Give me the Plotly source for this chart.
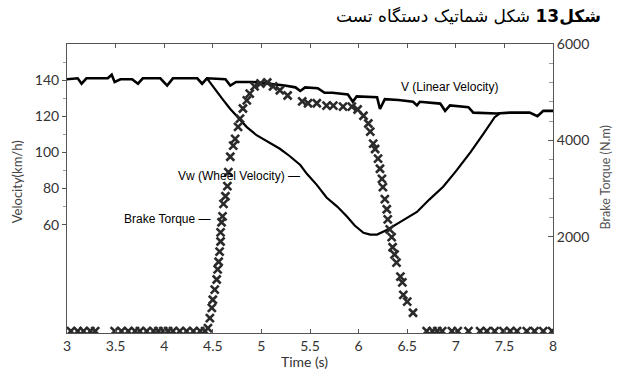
import plotly.graph_objects as go

# ---- data ----
v_time = [3.00, 3.11, 3.15, 3.20, 3.42, 3.46, 3.49, 3.55, 3.67, 3.73, 3.78, 3.96, 4.03, 4.09,
          4.34, 4.39, 4.44, 4.63, 4.68, 4.74, 4.91, 5.09, 5.24, 5.35, 5.40, 5.45, 5.58, 5.65,
          5.73, 5.89, 5.94, 5.98, 6.19, 6.22, 6.27, 6.41, 6.56, 6.60, 6.63, 6.84, 6.89, 6.94,
          7.13, 7.18, 7.42, 7.56, 7.76, 7.84, 7.90, 8.00]
v_speed = [140.5, 141, 138, 141, 141, 143, 139, 140.5, 140.5, 138, 141, 141, 137, 141,
           141, 138, 141, 140.5, 137, 139, 139, 138, 137, 136, 134, 136, 135.5, 133,
           133, 132, 128, 131, 130.5, 124, 129.5, 129, 128, 126, 128, 127, 123, 126,
           125, 122, 121.5, 122, 122, 120, 123, 123]

vw_time = [4.44, 4.52, 4.60, 4.68, 4.75, 4.85, 4.95, 5.06, 5.19, 5.29, 5.40, 5.47, 5.57,
           5.67, 5.78, 5.88, 5.96, 6.05, 6.12, 6.19, 6.29, 6.43, 6.60, 6.73, 6.87, 7.00,
           7.15, 7.28, 7.40, 7.45]
vw_speed = [141, 135, 129.5, 124, 120, 114, 109.5, 106, 102, 98, 93, 88, 82,
            75, 70, 64.5, 59.5, 55.5, 54.5, 54.5, 57, 61.5, 67, 74, 81, 89.5,
            100, 110, 119.5, 121.5]

bt_time = [3.04, 3.11, 3.17, 3.24, 3.29,
           3.49, 3.56, 3.63, 3.70, 3.75, 3.82, 3.89, 3.94, 3.99, 4.04, 4.09, 4.16, 4.23, 4.30, 4.37, 4.42,
           4.45, 4.47, 4.49, 4.50, 4.52, 4.54, 4.55, 4.56, 4.57, 4.58, 4.58, 4.59, 4.60, 4.61, 4.63,
           4.65, 4.66, 4.68, 4.71, 4.73, 4.76, 4.78, 4.81, 4.85, 4.88, 4.93, 4.99, 5.06, 5.12, 5.19,
           5.27, 5.42, 5.48, 5.57, 5.67, 5.74, 5.84, 5.93, 5.99, 6.05, 6.10, 6.12, 6.15, 6.17, 6.20,
           6.22, 6.24, 6.25, 6.27, 6.29, 6.30, 6.32, 6.34, 6.35, 6.37, 6.39, 6.43, 6.45, 6.46, 6.50,
           6.56,
           6.70, 6.76, 6.81, 6.86, 6.96, 7.02, 7.13, 7.25, 7.32, 7.40, 7.49, 7.56, 7.63, 7.73, 7.81,
           7.90, 7.99]
bt_torque = [40, 40, 40, 40, 40,
             40, 40, 40, 40, 40, 40, 40, 40, 40, 40, 40, 40, 40, 40, 40, 40,
             100, 310, 520, 690, 900, 1110, 1320, 1480, 1690, 1900, 2090, 2300, 2420, 2680, 2840,
             3050, 3340, 3660, 3890, 4030, 4280, 4450, 4660, 4830, 4970, 5120, 5180, 5200, 5120, 5040,
             4930, 4810, 4770, 4770, 4720, 4720, 4700, 4700, 4640, 4510, 4350, 4180, 3930, 3820, 3620,
             3410, 3200, 3030, 2780, 2570, 2360, 2150, 1990, 1780, 1630, 1460, 1170, 1050, 790, 650,
             420,
             40, 40, 40, 40, 40, 40, 40, 40, 40, 40, 40, 40, 40, 40, 40,
             40, 40]

x_tickvals = [3, 3.5, 4, 4.5, 5, 5.5, 6, 6.5, 7, 7.5, 8]
left_tickvals = [60, 80, 100, 120, 140]
left_minor = [70, 90, 110, 130, 150]
right_tickvals = [2000, 4000, 6000]
right_minor = [2400, 2800, 3200, 3600, 4400, 4800, 5200, 5600]

title_text = "<b>شکل13</b> شکل شماتیک دستگاه تست"

AX = "#555555"
TICKFONT = dict(family="Lato, Open Sans, sans-serif", size=14, color="#333333")

fig = go.Figure()
fig.add_trace(go.Scatter(x=v_time, y=v_speed, mode="lines",
                         line=dict(color="black", width=2.6), showlegend=False))
fig.add_trace(go.Scatter(x=vw_time, y=vw_speed, mode="lines",
                         line=dict(color="black", width=2.2), showlegend=False))
fig.add_trace(go.Scatter(x=bt_time, y=bt_torque, mode="markers", yaxis="y2",
                         marker=dict(symbol="x-thin", size=8, color="#2a2a2a",
                                     line=dict(width=2.6, color="#2a2a2a")),
                         showlegend=False))

fig.update_layout(
    width=617, height=372,
    margin=dict(l=67, r=64, t=44, b=39),
    paper_bgcolor="white", plot_bgcolor="white",
    xaxis=dict(range=[3, 8], tickvals=x_tickvals, ticks="inside", ticklen=4,
               tickcolor=AX, showline=True, linecolor=AX, linewidth=1, mirror="ticks",
               showgrid=False, zeroline=False, tickfont=TICKFONT),
    yaxis=dict(range=[0, 160], tickvals=left_tickvals, ticks="outside", ticklen=4,
               tickcolor=AX, showline=True, linecolor=AX, linewidth=1,
               showgrid=False, zeroline=False, tickfont=TICKFONT,
               minor=dict(tickvals=left_minor, ticks="outside", ticklen=3, tickcolor="#999999")),
    yaxis2=dict(range=[0, 6000], overlaying="y", side="right", tickvals=right_tickvals,
                ticks="inside", ticklen=5, tickcolor=AX, showline=True, linecolor=AX,
                linewidth=1, showgrid=False, zeroline=False, tickfont=TICKFONT,
                minor=dict(tickvals=right_minor, ticks="inside", ticklen=4, tickcolor="#999999")),
    annotations=[
        dict(text=title_text, xref="paper", yref="paper", x=1.103, y=1.097,
             xanchor="right", yanchor="middle", showarrow=False,
             font=dict(family="DejaVu Sans", size=17, color="black")),
        dict(text="Velocity(km/h)", xref="paper", yref="paper", x=-0.103, y=0.525,
             textangle=-90, xanchor="center", yanchor="middle", showarrow=False,
             font=dict(family="Lato, Open Sans, sans-serif", size=13, color="#444444")),
        dict(text="Brake Torque (N.m)", xref="paper", yref="paper", x=1.108, y=0.54,
             textangle=-90, xanchor="center", yanchor="middle", showarrow=False,
             font=dict(family="Lato, Open Sans, sans-serif", size=12.5, color="#555555")),
        dict(text="Time (s)", xref="paper", yref="paper", x=0.488, y=-0.10,
             xanchor="center", yanchor="middle", showarrow=False,
             font=dict(family="Lato, Open Sans, sans-serif", size=14, color="#333333")),
        dict(text="V (Linear Velocity)", xref="x", yref="y", x=6.94, y=136,
             xanchor="center", yanchor="middle", showarrow=False,
             font=dict(family="Liberation Sans, Arial", size=12, color="black")),
        dict(text="Vw (Wheel Velocity) \u2014", xref="x", yref="y", x=5.42, y=86.7,
             xanchor="right", yanchor="middle", showarrow=False,
             font=dict(family="Liberation Sans, Arial", size=12, color="black")),
        dict(text="Brake Torque \u2014", xref="x", yref="y", x=4.50, y=63.3,
             xanchor="right", yanchor="middle", showarrow=False,
             font=dict(family="Liberation Sans, Arial", size=12, color="black")),
    ],
)

fig.write_html("out.html")
